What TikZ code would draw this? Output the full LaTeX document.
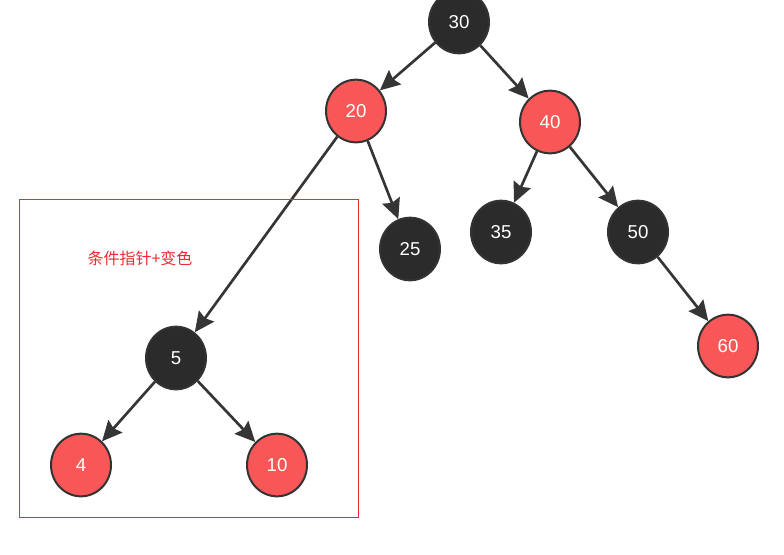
\documentclass[tikz,border=0pt]{standalone}
\usepackage{fontspec}
\setmainfont{Liberation Sans}
\newfontfamily\cjk{Noto Sans CJK SC}
\usetikzlibrary{arrows.meta,shapes.geometric}
\definecolor{NodeBlack}{HTML}{2B2B2B}
\definecolor{NodeRed}{HTML}{F95757}
\definecolor{RimGray}{HTML}{333333}
\definecolor{EdgeGray}{HTML}{353535}
\definecolor{MarkRed}{HTML}{EE2A2E}
\tikzset{
  TN/.style={ellipse,minimum width=45pt,minimum height=47pt,inner sep=0pt,draw=RimGray,line width=1.5pt,
             text=white,font=\fontsize{14}{16}\selectfont},
  nK/.style={TN,fill=NodeBlack},
  nR/.style={TN,fill=NodeRed},
  arr/.style={-{Stealth[length=15pt,width=14pt,inset=2pt]},line width=2pt,draw=EdgeGray},
  box/.style={draw=MarkRed,line width=0.6pt},
  LR/.style={text=MarkRed,font=\cjk\fontsize{12}{14}\selectfont}
}

\begin{document}
\begin{tikzpicture}[x=0.75pt,y=-0.75pt]
  \useasboundingbox (0,0) rectangle (784,554);
  \clip (0,0) rectangle (784,554);
  % tree
  \node[nK] (n30) at (459,22) {30};
  \node[nR] (n20) at (356,111) {20};
  \node[nR] (n40) at (550,122) {40};
  \node[nK] (n25) at (410,249) {25};
  \node[nK] (n35) at (501,232) {35};
  \node[nK] (n50) at (638,232) {50};
  \node[nR] (n60) at (728,346) {60};
  \node[nK] (n5)  at (176,358) {5};
  \node[nR] (n4)  at (81,465)  {4};
  \node[nR] (n10) at (277,465) {10};

  \draw[arr](n30)--(n20);
  \draw[arr](n30)--(n40);
  \draw[arr](n20)--(n5);
  \draw[arr](n20)--(n25);
  \draw[arr](n40)--(n35);
  \draw[arr](n40)--(n50);
  \draw[arr](n50)--(n60);
  \draw[arr](n5)--(n4);
  \draw[arr](n5)--(n10);

  % marked subtree
  \draw[box] (19,199) rectangle (358,517);
  \node[LR] (note) at (140,258) {条件指针+变色};
\end{tikzpicture}
\end{document}
